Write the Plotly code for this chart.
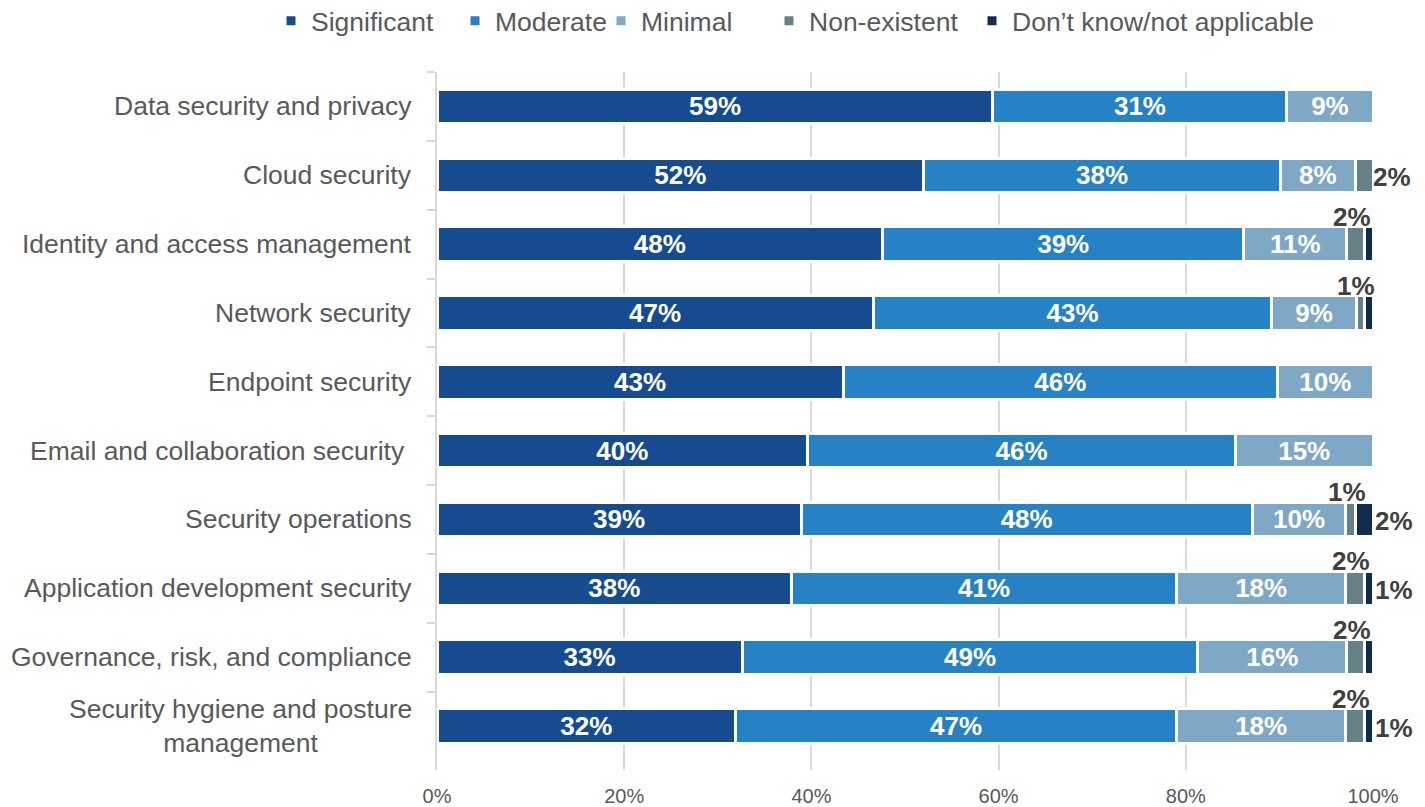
import plotly.graph_objects as go

categories = [
    "Data security and privacy",
    "Cloud security",
    "Identity and access management",
    "Network security",
    "Endpoint security",
    "Email and collaboration security\u00a0",
    "Security operations",
    "Application development security",
    "Governance, risk, and compliance",
    "Security hygiene and posture<br>management",
]

significant = [59.4, 52.0, 47.6, 46.6, 43.4, 39.6, 38.9, 37.9, 32.6, 31.9]
moderate = [31.4, 38.1, 38.6, 42.6, 46.4, 45.7, 48.2, 41.1, 48.7, 47.1]
minimal = [9.2, 8.0, 11.0, 9.0, 10.2, 14.7, 10.0, 18.1, 15.9, 18.1]
non_existent = [0, 1.9, 1.9, 0.9, 0, 0, 1.0, 2.0, 1.9, 2.0]
dont_know = [0, 0, 0.9, 0.9, 0, 0, 1.9, 0.9, 0.9, 0.9]

series_names = ["Significant", "Moderate", "Minimal", "Non-existent", "Don\u2019t know/not applicable"]
series_values = [significant, moderate, minimal, non_existent, dont_know]
colors = ["#164C8F", "#2682C5", "#7FA8C6", "#648287", "#122B52"]

x_tick_values = [0, 20, 40, 60, 80, 100]
x_tick_labels = ["0%", "20%", "40%", "60%", "80%", "100%"]

FONT = "Liberation Sans, Arial, sans-serif"
GRAY = "#595959"
DARK = "#404040"
GRID = "#d9d9d9"

# layout geometry (pixels)
W, H = 1425, 807
ML, MR, MT, MB = 437, 52, 72, 37
PLOT_W = W - ML - MR
PLOT_H = H - MT - MB
legend_left_px = [271, 455, 601, 769, 972]  # left edge of each legend entry
legend_center_y_px = 21

legend_ids = ["legend", "legend2", "legend3", "legend4", "legend5"]

fig = go.Figure()
for i, (name, vals, col) in enumerate(zip(series_names, series_values, colors)):
    inside = i < 3
    fig.add_trace(go.Bar(
        y=categories, x=vals, name=name, orientation="h",
        marker=dict(color=col, line=dict(color="white", width=3)),
        texttemplate="%{x:.0f}%" if inside else None,
        textposition="inside" if inside else "none",
        insidetextanchor="middle",
        textfont=dict(family=FONT, size=26, color="white", weight="bold"),
        hoverinfo="x+name",
        legend=legend_ids[i],
    ))

annotations = []
# category labels (centered multi-line, right-aligned block)
for cat in categories:
    annotations.append(dict(
        x=0, xref="paper", y=cat, yref="y", xanchor="right", xshift=-23,
        text=cat, showarrow=False, align="center",
        font=dict(family=FONT, size=26.5, color=GRAY),
    ))

# outside data labels for the small segments
for j, cat in enumerate(categories):
    base = significant[j] + moderate[j] + minimal[j]
    ne = non_existent[j]
    dk = dont_know[j]
    if ne > 0:
        if dk > 0:
            annotations.append(dict(
                x=base + ne / 2, y=cat, xref="x", yref="y", yshift=27, xshift=-4,
                text=f"{ne:.0f}%", showarrow=False, xanchor="center",
                font=dict(family=FONT, size=26, color=DARK, weight="bold"),
            ))
        else:
            annotations.append(dict(
                x=base + ne, y=cat, xref="x", yref="y", yshift=-2, xshift=-2,
                text=f"{ne:.0f}%", showarrow=False, xanchor="left",
                font=dict(family=FONT, size=26, color=DARK, weight="bold"),
            ))
    if dk > 0:
        annotations.append(dict(
            x=base + ne + dk, y=cat, xref="x", yref="y", yshift=-2, xshift=0,
            text=f"{dk:.0f}%", showarrow=False, xanchor="left",
            font=dict(family=FONT, size=26, color=DARK, weight="bold"),
        ))

legend_y = 1 + (MT - legend_center_y_px) / PLOT_H
legend_layouts = {}
for lid, left in zip(legend_ids, legend_left_px):
    legend_layouts[lid] = dict(
        orientation="h", xref="paper", yref="paper",
        x=(left - ML) / PLOT_W, xanchor="left", y=legend_y, yanchor="middle",
        font=dict(family=FONT, size=26.5, color=GRAY),
        bgcolor="rgba(0,0,0,0)",
    )

fig.update_layout(
    barmode="stack",
    bargap=0.5,
    width=W, height=H,
    margin=dict(l=ML, r=MR, t=MT, b=MB, autoexpand=False),
    paper_bgcolor="white", plot_bgcolor="white",
    font=dict(family=FONT, color=GRAY),
    annotations=annotations,
    showlegend=True,
    uniformtext=dict(mode="show", minsize=26),
    **legend_layouts,
)
fig.update_xaxes(
    range=[0, 100], tickvals=x_tick_values, ticktext=x_tick_labels,
    showgrid=True, gridcolor=GRID, gridwidth=2, zeroline=False, showline=False,
    tickfont=dict(family=FONT, size=20, color=GRAY),
    ticklabelstandoff=12, automargin=False,
)
fig.update_yaxes(
    autorange="reversed", showticklabels=False, automargin=False,
    ticks="outside", tickson="boundaries", ticklen=8, tickcolor=GRID, tickwidth=2,
    showline=True, linecolor=GRID, linewidth=2, showgrid=False,
)

fig.write_html(
    "out.html",
    config={"displayModeBar": False},
    post_script="document.body.style.margin='0';document.body.style.overflow='hidden';",
)
